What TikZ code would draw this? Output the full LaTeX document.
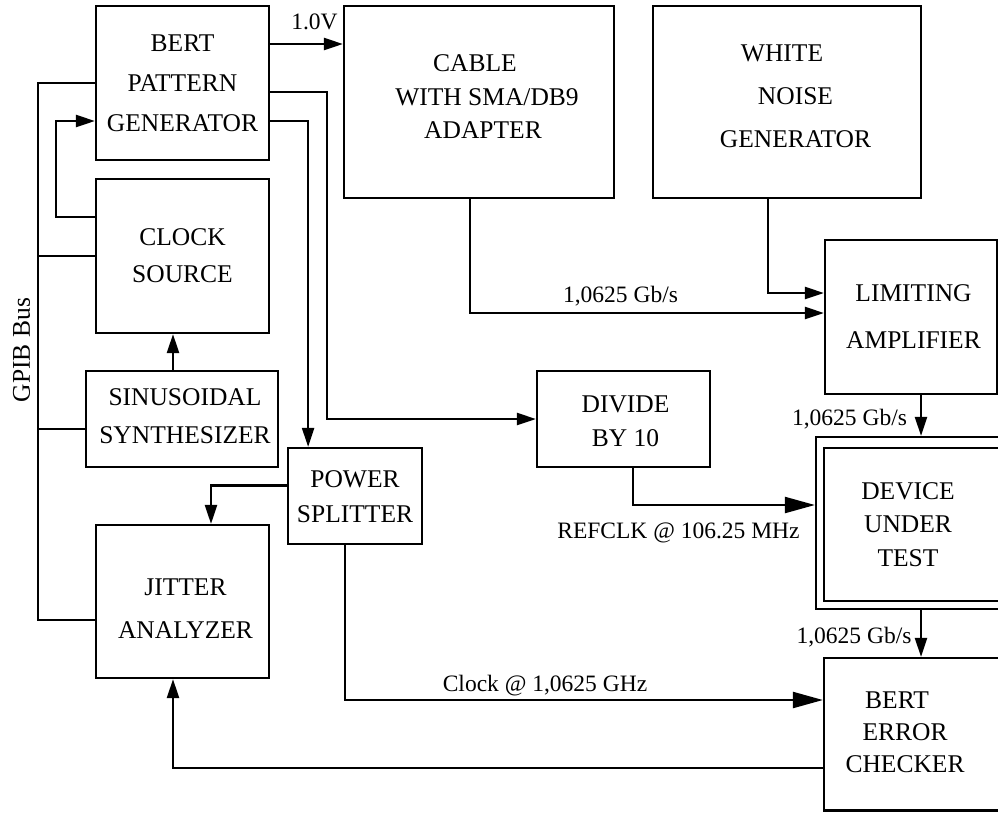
\documentclass[tikz,border=0pt]{standalone}
\usepackage{fontspec}
\setmainfont{Liberation Serif}
\usetikzlibrary{arrows.meta}
\begin{document}
\begin{tikzpicture}[x=1pt,y=-1pt,
  box/.style={draw, line width=2.2pt, inner sep=0pt},
  txt/.style={inner sep=0pt, align=center, font=\fontsize{25.5}{#1}\selectfont},
  lbl/.style={inner sep=0pt, anchor=base, font=\fontsize{23.5}{28}\selectfont},
  wire/.style={line width=2.2pt},
  arr/.style={wire, -{Triangle[length=19pt,width=12pt]}},
  bigarr/.style={wire, -{Triangle[length=30pt,width=16pt]}}]

\useasboundingbox (0,0) rectangle (998,812);
\clip (0,0) rectangle (998,812);

% blocks
\node[box, minimum width=173pt, minimum height=154pt] (bpg)   at (182.5,83)  {};
\node[box, minimum width=270pt, minimum height=192pt] (cable) at (479,102)   {};
\node[box, minimum width=268pt, minimum height=192pt] (wng)   at (787,102)   {};
\node[box, minimum width=173pt, minimum height=154pt] (clk)   at (182.5,256) {};
\node[box, minimum width=192pt, minimum height=96pt]  (syn)   at (182,419)   {};
\node[box, minimum width=173pt, minimum height=153pt] (jit)   at (182.5,601.5) {};
\node[box, minimum width=134pt, minimum height=96pt]  (psp)   at (355,496)   {};
\node[box, minimum width=173pt, minimum height=96pt]  (div)   at (623.5,419) {};
\node[box, minimum width=172pt, minimum height=154pt] (lim)   at (911,317)   {};
\node[box, minimum width=190pt, minimum height=172pt] (dut)   at (911,523)   {};
\node[box, minimum width=178pt, minimum height=153pt] (dutin) at (913,524.5) {};
\node[box, minimum width=182pt, minimum height=152.5pt] (chk) at (915,734.25) {};

% block texts
\node[txt=40] (bpgT) at (bpg) {BERT\\PATTERN\\GENERATOR};
\node[txt=33.5, xshift=8pt, yshift=5pt] (cableT) at (cable)
  {CABLE\hspace*{24pt}\\WITH SMA/DB9\\ADAPTER\hspace*{8pt}};
\node[txt=43, xshift=8.5pt, yshift=5.5pt] (wngT) at (wng)
  {WHITE\hspace*{27pt}\\NOISE\hspace*{25pt}\\GENERATOR};
\node[txt=37] (clkT) at (clk) {CLOCK\\SOURCE};
\node[txt=38, xshift=3pt, yshift=2.5pt] (synT) at (syn) {SINUSOIDAL\\SYNTHESIZER};
\node[txt=43, xshift=3pt, yshift=-7pt] (jitT) at (jit) {JITTER\\ANALYZER};
\node[txt=35, yshift=-1pt] (pspT) at (psp) {POWER\\SPLITTER};
\node[txt=34, xshift=2pt, yshift=-2pt] (divT) at (div) {DIVIDE\\BY 10};
\node[txt=47, xshift=2.5pt] (limT) at (lim) {LIMITING\\AMPLIFIER};
\node[txt=33.5, xshift=-5pt] (dutT) at (dutin) {DEVICE\\UNDER\\TEST};
\node[txt=32, xshift=-10pt, yshift=2pt] (chkT) at (chk)
  {BERT\hspace*{16pt}\\ERROR\\CHECKER};

% signal labels
\node[lbl] (v1) at (314.5,29) {1.0V};
\node[lbl] (r1) at (620.5,302) {1,0625 Gb/s};
\node[lbl] (r2) at (849.5,425) {1,0625 Gb/s};
\node[lbl] (r3) at (854,643) {1,0625 Gb/s};
\node[lbl] (refclk) at (678.5,538) {REFCLK @ 106.25 MHz};
\node[lbl] (clkl) at (545,691) {Clock @ 1,0625 GHz};
\node[rotate=90, inner sep=0pt, font=\fontsize{25.5}{30}\selectfont] (gpib) at (21.5,350) {GPIB Bus};

% pattern generator outputs
\draw[arr] ([yshift=39pt]bpg.east) coordinate (p1) -- (p1 -| cable.west);
\draw[arr] ([yshift=-9pt]bpg.east) -- ++(57,0) |- (div.west);
\draw[arr] ([yshift=-38pt]bpg.east) -- ++(38,0) coordinate (p2) -- (p2 |- psp.north);
% clock source feeds the pattern generator
\draw[arr] ([yshift=39pt]clk.west) -- ++(-39,0) |- ([yshift=-38pt]bpg.west);

% GPIB bus
\coordinate (bus) at ([xshift=-57pt]bpg.west);
\coordinate (jg) at ([yshift=-18.5pt]jit.west);
\coordinate (sg) at ([yshift=-10pt]syn.west);
\draw[wire] (bpg.west) -- (bus) -- (bus |- jg) -- (jg);
\draw[wire] (clk.west) -- (clk.west -| bus);
\draw[wire] (sg) -- (sg -| bus);

% modulation and clock paths
\draw[arr] ([xshift=-9pt]syn.north) coordinate (p3) -- (p3 |- clk.south);
\draw[arr] ([yshift=10.5pt]psp.west) -| ([xshift=28.5pt]jit.north);
\draw[bigarr] ([xshift=-10pt]psp.south) |- ([yshift=34.25pt]chk.west);
\draw[arr] ([yshift=-33.5pt]chk.west) -| ([xshift=-9.5pt]jit.south);

% data path
\draw[arr] ([xshift=-9pt]cable.south) |- ([yshift=4pt]lim.west);
\draw[arr] ([xshift=-19pt]wng.south) |- ([yshift=24pt]lim.west);
\draw[bigarr] ([xshift=9.5pt]div.south) |- ([yshift=18pt]dut.west);
\draw[arr] ([xshift=10pt]lim.south) coordinate (p4) -- (p4 |- dut.north);
\draw[arr] (p4 |- dut.south) -- (p4 |- chk.north);
\end{tikzpicture}
\end{document}
